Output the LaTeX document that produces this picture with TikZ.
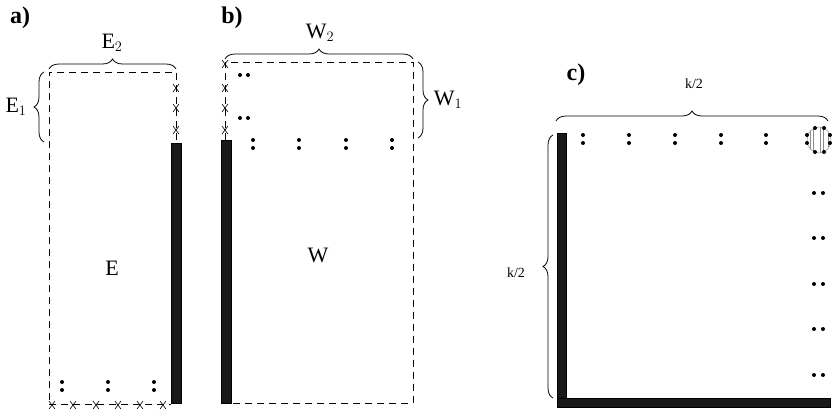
\documentclass[tikz,border=0pt]{standalone}
\usepackage{fontspec}
\setmainfont{Liberation Serif}
\usetikzlibrary{calc,decorations.pathreplacing}
\def\crossmark(#1,#2){\draw[line width=0.6pt] ($(#1,#2)+(-3,-4)$) -- ($(#1,#2)+(3,4)$) ($(#1,#2)+(-3,4)$) -- ($(#1,#2)+(3,-4)$);}
\tikzset{
  frame/.style={dash pattern=on 7pt off 5pt, line width=0.8pt},
  bar/.style={fill=black!90},
  curly/.style={decorate, decoration={brace, amplitude=10pt}, line width=0.8pt},
  lbl/.style={font=\fontsize{22}{24}\selectfont, inner sep=1pt},
  small/.style={font=\fontsize{14}{16}\selectfont, inner sep=1pt},
  panel/.style={font=\fontsize{24}{26}\selectfont\bfseries, inner sep=0pt}
}

\begin{document}
\begin{tikzpicture}[x=1pt, y=-1pt]
		%%%%% START %%%%%
		\useasboundingbox (0, 0) rectangle (833, 410);
		
		%% a)
		\node[panel] (pa) at (20, 18) {a)};
		\draw[frame] (49, 400) -- (49, 72) -- (176, 72) -- (176, 143);
		\draw[frame] (49, 404) -- (171, 404);
		\foreach \y in {88, 108, 130} {\crossmark(176,\y)}
		\foreach \x in {52, 73, 96, 118, 140, 163} {\crossmark(\x,405)}
		\draw[bar] (171, 143) rectangle (181, 403);
		\foreach \x in {62, 108, 154} {
			\fill (\x, 382) circle (2pt);
			\fill (\x, 390) circle (2pt);
		}
		\node[lbl] (E) at (112, 268) {E};
		\draw[curly] (49, 69) -- (176, 69);
		\node[lbl] (E2) at (112, 43) {E$_2$};
		\draw[curly] (44, 142) -- (44, 72);
		\node[lbl] (E1) at (16, 107) {E$_1$};
		
		%% b)
		\node[panel] (pb) at (232, 18) {b)};
		\draw[frame] (225, 140) -- (225, 62) -- (413, 62) -- (413, 403) -- (231, 403);
		\foreach \y in {64, 88, 108, 130} {\crossmark(225,\y)}
		\draw[bar] (221, 140) rectangle (231, 403);
		\foreach \y in {75, 118} {
			\fill (240, \y) circle (2pt);
			\fill (248, \y) circle (2pt);
		}
		\foreach \x in {253, 299, 346, 392} {
			\fill (\x, 140) circle (2pt);
			\fill (\x, 148) circle (2pt);
		}
		\node[lbl] (W) at (318, 255) {W};
		\draw[curly] (225, 59) -- (413, 59);
		\node[lbl] (W2) at (320, 33) {W$_2$};
		\draw[curly] (418, 62) -- (418, 138);
		\node[lbl] (W1) at (448, 100) {W$_1$};
		
		%% c)
		\node[panel] (pc) at (576, 75) {c)};
		\draw[bar] (557, 133) rectangle (566, 407);
		\draw[bar] (557, 398) rectangle (830, 407);
		\foreach \x in {583, 629, 675, 721, 766} {
			\fill (\x, 135) circle (2pt);
			\fill (\x, 143) circle (2pt);
		}
		\begin{scope}
			\clip (819, 140) ellipse (12 and 13);
			\foreach \x in {810, 813, 820, 823, 828}
				\draw[black!45, line width=0.8pt] (\x, 125) -- (\x, 155);
		\end{scope}
		\draw[black!45, line width=0.5pt] (819, 140) ellipse (12 and 13);
		\foreach \p in {(815,128), (824,128), (815,152), (824,152), (807,135), (807,143), (830,135), (830,143)}
			\fill \p circle (2pt);
		\foreach \y in {193, 238, 284, 329, 375} {
			\fill (814, \y) circle (2pt);
			\fill (823, \y) circle (2pt);
		}
		\draw[curly] (556, 121) -- (828, 121);
		\node[small] (K1) at (694, 84) {k/2};
		\draw[curly] (553, 398) -- (553, 135);
		\node[small] (K2) at (516, 273) {k/2};
		
		%%%%% END %%%%%
	\end{tikzpicture}
\end{document}
